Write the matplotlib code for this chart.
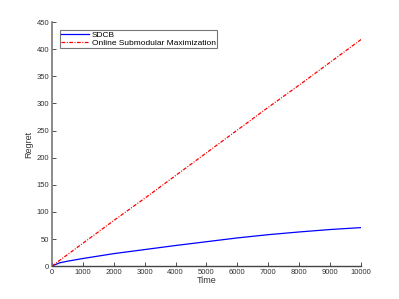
import numpy as np
import matplotlib
matplotlib.use('Agg')
import matplotlib.pyplot as plt

# data
t = [0, 250, 500, 1000, 2000, 3000, 4000, 5000, 6000, 7000, 8000, 9000, 10000]
sdcb = [0, 6, 9, 14, 23, 30.5, 38, 45, 52, 58, 63, 67.5, 71]
osm = [0, 10.5, 21, 42, 84, 125, 167, 209, 251, 293, 334, 376, 418]

plt.rcParams['font.family'] = ['Liberation Sans', 'DejaVu Sans']

fig = plt.figure(figsize=(3.99, 2.99), dpi=100)
ax = fig.add_axes([0.130, 0.110, 0.775, 0.816])

ax.plot(t, sdcb, color='#0000ff', lw=0.9, label='SDCB')
ax.plot(t, osm, color='#ff0000', lw=0.9, ls='-.', dashes=(3, 1.2, 0.8, 1.2),
        label='Online Submodular Maximization')

ax.set_xlim(0, 10000)
ax.set_ylim(0, 450)
ax.set_xticks(np.arange(0, 10001, 1000))
ax.set_yticks(np.arange(0, 451, 50))

for s in ['top', 'right']:
    ax.spines[s].set_visible(False)
ax.spines['left'].set_color('#777777')
ax.spines['bottom'].set_color('#444444')
ax.spines['left'].set_linewidth(1.2)
ax.spines['bottom'].set_linewidth(1.0)
ax.tick_params(direction='in', length=3, width=0.6, labelsize=5.5,
               colors='#333333', pad=2)

ax.set_xlabel('Time', fontsize=6.5, color='#333333', labelpad=0)
ax.set_ylabel('Regret', fontsize=6.5, color='#333333', labelpad=2)

leg = ax.legend(loc='upper left', bbox_to_anchor=(0.025, 0.967), fontsize=6,
                frameon=True, fancybox=False, borderpad=0.15, labelspacing=0.0,
                handlelength=3.4, handletextpad=0.3, borderaxespad=0)
leg.get_frame().set_edgecolor('#555555')
leg.get_frame().set_linewidth(0.8)

fig.savefig('out.png', dpi=100)
